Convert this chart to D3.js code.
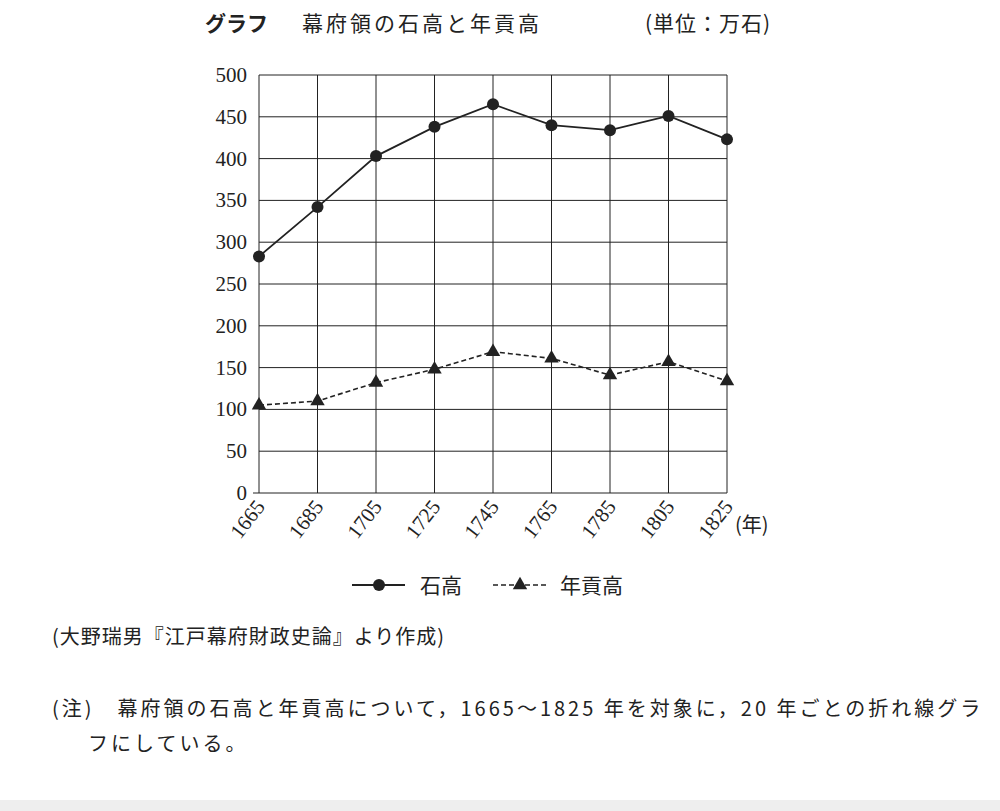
<!DOCTYPE html>
<html><head><meta charset="utf-8">
<script src="https://cdn.jsdelivr.net/npm/d3@7"></script>
<style>body{margin:0;background:#fff}svg{display:block}</style>
</head><body>
<svg id="c" width="1000" height="811"></svg>
<script>
const years=[1665,1685,1705,1725,1745,1765,1785,1805,1825];
const kokudaka=[283,342,403,438,465,440,434,451,423];
const nengu=[105,110,132,148,169,161,141,157,134];
const yTicks=[0,50,100,150,200,250,300,350,400,450,500];

const svg=d3.select("#c");
const jp="'Noto Sans CJK JP',sans-serif", num="'Liberation Serif','DejaVu Serif',serif";
svg.append("rect").attr("x",0).attr("y",800).attr("width",1000).attr("height",11).attr("fill","#eee");
const x=d3.scaleLinear().domain([1665,1825]).range([259,727]);
const y=d3.scaleLinear().domain([0,500]).range([493,75]);
const g=svg.append("g");
g.selectAll(".v").data(years).enter().append("line").attr("x1",d=>x(d)).attr("x2",d=>x(d)).attr("y1",y(0)).attr("y2",y(500)).attr("stroke","#222").attr("stroke-width",1);
g.selectAll(".h").data(yTicks).enter().append("line").attr("x1",x(1665)).attr("x2",x(1825)).attr("y1",d=>y(d)).attr("y2",d=>y(d)).attr("stroke","#222").attr("stroke-width",1);
g.append("line").attr("x1",x(1665)-6).attr("x2",x(1665)).attr("y1",y(0)).attr("y2",y(0)).attr("stroke","#222");
g.selectAll(".yl").data(yTicks).enter().append("text").attr("x",247).attr("y",d=>y(d)+7).attr("text-anchor","end").attr("font-family",num).attr("font-size",21).attr("fill","#222").text(d=>d);
g.selectAll(".xl").data(years).enter().append("text").attr("transform",d=>`translate(${x(d)+7},${y(0)+14}) rotate(-52)`).attr("text-anchor","end").attr("font-family",num).attr("font-size",21).attr("fill","#222").text(d=>d);
svg.append("text").attr("x",735).attr("y",532).attr("font-family",jp).attr("font-size",20).attr("fill","#222").text("(年)");
const line=d3.line().x((d,i)=>x(years[i])).y(d=>y(d));
g.append("path").attr("d",line(kokudaka)).attr("fill","none").attr("stroke","#222").attr("stroke-width",1.8);
g.append("path").attr("d",line(nengu)).attr("fill","none").attr("stroke","#222").attr("stroke-width",1.6).attr("stroke-dasharray","5,3");
g.selectAll(".c").data(kokudaka).enter().append("circle").attr("cx",(d,i)=>x(years[i])).attr("cy",d=>y(d)).attr("r",6).attr("fill","#222");
const tri=d3.symbol().type(d3.symbolTriangle).size(90);
g.selectAll(".t").data(nengu).enter().append("path").attr("d",tri).attr("transform",(d,i)=>`translate(${x(years[i])},${y(d)})`).attr("fill","#222");
svg.append("line").attr("x1",352).attr("x2",405).attr("y1",585).attr("y2",585).attr("stroke","#222").attr("stroke-width",1.8);
svg.append("circle").attr("cx",379).attr("cy",585).attr("r",6).attr("fill","#222");
svg.append("text").attr("x",420).attr("y",593).attr("font-family",jp).attr("font-size",21).attr("fill","#222").text("石高");
svg.append("line").attr("x1",493).attr("x2",548).attr("y1",585).attr("y2",585).attr("stroke","#222").attr("stroke-width",1.6).attr("stroke-dasharray","5,3");
svg.append("path").attr("d",tri).attr("transform","translate(520,585)").attr("fill","#222");
svg.append("text").attr("x",560).attr("y",593).attr("font-family",jp).attr("font-size",21).attr("fill","#222").text("年貢高");
svg.append("text").attr("x",205).attr("y",31).attr("font-family",jp).attr("font-size",21).attr("font-weight","bold").attr("fill","#222").text("グラフ");
svg.append("text").attr("x",302).attr("y",31).attr("font-family",jp).attr("font-size",21).attr("letter-spacing",3).attr("fill","#222").text("幕府領の石高と年貢高");
svg.append("text").attr("x",645).attr("y",31).attr("font-family",jp).attr("font-size",21).attr("letter-spacing",1).attr("fill","#222").text("(単位：万石)");
svg.append("text").attr("x",52).attr("y",644).attr("font-family",jp).attr("font-size",20).attr("letter-spacing",1).attr("fill","#222").text("(大野瑞男『江戸幕府財政史論』より作成)");
svg.append("text").attr("x",52).attr("y",716).attr("font-family",jp).attr("font-size",20).attr("letter-spacing",3).attr("fill","#222").text("(注)　幕府領の石高と年貢高について，1665～1825 年を対象に，20 年ごとの折れ線グラ");
svg.append("text").attr("x",88).attr("y",751).attr("font-family",jp).attr("font-size",20).attr("letter-spacing",3).attr("fill","#222").text("フにしている。");
</script>
</body></html>
